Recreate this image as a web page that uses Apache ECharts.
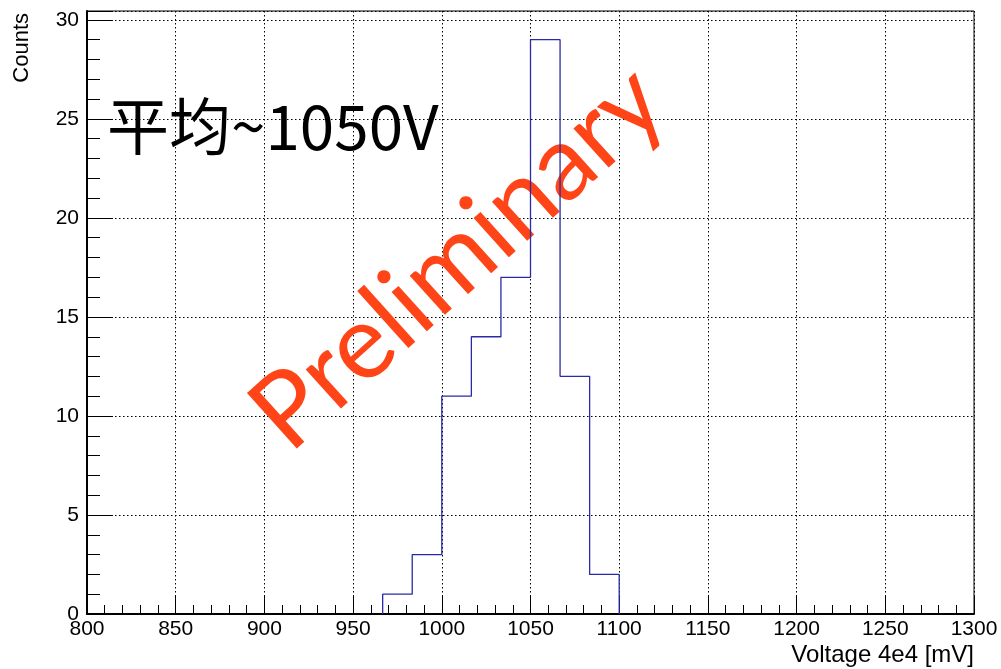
<!DOCTYPE html>
<html>
<head>
<meta charset="utf-8">
<script src="https://cdn.jsdelivr.net/npm/echarts@6/dist/echarts.min.js"></script>
<style>
	html, body { margin: 0; padding: 0; background: #fff; }
	#chart { width: 1001px; height: 669px; }
</style>
</head>
<body>
<div id="chart"></div>
<script>
// histogram bin edges (mV) and counts per bin
var binEdges = [966.67, 983.33, 1000, 1016.67, 1033.33, 1050, 1066.67, 1083.33, 1100];
var counts = [1, 3, 11, 14, 17, 29, 12, 2];
var xTicks = [800, 1300, 50];   // min, max, step
var yTicks = [0, 30.45, 5];     // top is a bit above 30 (ROOT style headroom)

// step outline of the histogram
var histData = [[binEdges[0], 0]];
for (var i = 0; i < counts.length; i++) {
	histData.push([binEdges[i], counts[i]]);
}
histData.push([binEdges[binEdges.length - 1], 0]);

var myChart = echarts.init(document.getElementById('chart'));
var labelFont = 'Liberation Sans';

var option = {
	animation: false,
	grid: {
		left: 87, right: 27, top: 11, bottom: 55,
		show: true,
		borderColor: '#000',
		borderWidth: 1
	},
	xAxis: {
		type: 'value',
		min: xTicks[0], max: xTicks[1], interval: xTicks[2],
		axisLine: { lineStyle: { color: '#000', width: 2 } },
		axisTick: { inside: true, length: 18, lineStyle: { color: '#000' } },
		minorTick: { show: true, splitNumber: 5, length: 9, lineStyle: { color: '#000' } },
		splitLine: { show: true, lineStyle: { color: '#000', type: [1.5, 2.5] } },
		axisLabel: {
			color: '#000', fontSize: 21, fontFamily: labelFont, margin: 5,
			formatter: function(value) { return String(value); }
		}
	},
	yAxis: {
		type: 'value',
		min: yTicks[0], max: yTicks[1], interval: yTicks[2],
		axisLine: { show: true, lineStyle: { color: '#000', width: 2 } },
		axisTick: { show: true, inside: true, length: 26, lineStyle: { color: '#000' } },
		minorTick: { show: true, splitNumber: 5, length: 13, lineStyle: { color: '#000' } },
		splitLine: { show: true, lineStyle: { color: '#000', type: [1.5, 2.5] } },
		axisLabel: {
			color: '#000', fontSize: 21, fontFamily: labelFont, margin: 8,
			showMaxLabel: false
		}
	},
	graphic: [{
		type: 'text', x: 22, y: 13, rotation: Math.PI / 2, z: 10,
		style: { text: 'Counts', font: '22px Liberation Sans', fill: '#000', align: 'right', verticalAlign: 'middle' }
	}, {
		type: 'text', x: 974, y: 655, z: 10,
		style: { text: 'Voltage 4e4 [mV]', font: '24px Liberation Sans', fill: '#000', align: 'right', verticalAlign: 'middle' }
	}, {
		type: 'text', x: 107, y: 126, z: 10,
		style: { text: '平均~1050V', font: '62px "Noto Sans CJK SC"', fill: '#000', align: 'left', verticalAlign: 'middle' }
	}, {
		type: 'text', x: 458, y: 258, rotation: 42 * Math.PI / 180, z: 1,
		style: { text: 'Preliminary', font: '104px Lato', fill: '#ff4518', align: 'center', verticalAlign: 'middle' }
	}],
	series: [{
		type: 'line',
		step: 'end',
		data: histData,
		symbol: 'none',
		z: 5,
		lineStyle: { color: '#2a2aa8', width: 1.3 }
	}]
};
myChart.setOption(option);
</script>
</body>
</html>
